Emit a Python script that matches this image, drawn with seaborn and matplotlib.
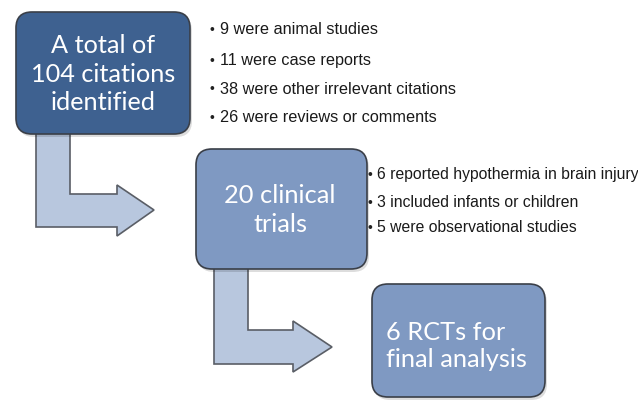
import matplotlib
matplotlib.use("Agg")
import matplotlib.pyplot as plt
import seaborn as sns
from matplotlib.patches import FancyBboxPatch, Polygon

# --- Flowchart content ---
stage_labels = ["A total of\n104 citations\nidentified",
                "20 clinical\ntrials",
                "6 RCTs for\nfinal analysis"]
excluded_first = ["9 were animal studies",
                  "11 were case reports",
                  "38 were other irrelevant citations",
                  "26 were reviews or comments"]
excluded_second = ["6 reported hypothermia in brain injury",
                   "3 included infants or children",
                   "5 were observational studies"]

# --- Layout (pixel space, y down) ---
W, H = 638, 402
boxes = [(16, 13, 174, 122), (196, 150, 171, 120), (372, 285, 173, 113)]
box_colors = ["#3E6190", "#7F99C2", "#7F99C2"]
arrows = [dict(x0=36, x1=70, top=133, hy0=195, hy1=228, hx=117, ht=186, hb=237, tip=(154, 211)),
          dict(x0=214, x1=248, top=268, hy0=331, hy1=365, hx=293, ht=322, hb=373, tip=(332, 348))]

sns.set_theme(style="white")
plt.rcParams['font.family'] = ['Lato', 'DejaVu Sans']

fig = plt.figure(figsize=(W / 100, H / 100), dpi=100)
ax = fig.add_axes([0, 0, 1, 1])
ax.set_xlim(0, W)
ax.set_ylim(H, 0)
ax.axis("off")

# bent arrows (drawn behind the boxes)
for a in arrows:
    pts = [(a["x0"], a["top"]), (a["x1"], a["top"]), (a["x1"], a["hy0"]),
           (a["hx"], a["hy0"]), (a["hx"], a["ht"]), a["tip"],
           (a["hx"], a["hb"]), (a["hx"], a["hy1"]), (a["x0"], a["hy1"])]
    ax.add_patch(Polygon(pts, closed=True, facecolor="#B8C7DE",
                         edgecolor="#5A5E66", linewidth=1.2, zorder=1))

# rounded boxes with a soft shadow
for (x, y, w, h), c in zip(boxes, box_colors):
    ax.add_patch(FancyBboxPatch((x + 2, y + 3), w, h,
                                boxstyle="round,pad=0,rounding_size=16",
                                facecolor="#00000022", edgecolor="none", zorder=2))
    ax.add_patch(FancyBboxPatch((x, y), w, h,
                                boxstyle="round,pad=0,rounding_size=16",
                                facecolor=c, edgecolor="#3A3F48", linewidth=1.2, zorder=3))

# box text
ax.text(103, 74, stage_labels[0], ha="center", va="center", color="white",
        fontsize=18.2, linespacing=1.28, zorder=4)
ax.text(280, 210, stage_labels[1], ha="center", va="center", color="white",
        fontsize=18.3, linespacing=1.28, zorder=4)
ax.text(386, 346, stage_labels[2], ha="left", va="center", color="white",
        fontsize=18.3, linespacing=1.2, zorder=4)

# exclusion bullet lists
first_y = [30, 61, 89, 118]
for yy, s in zip(first_y, excluded_first):
    ax.text(210, yy, "\u2022", ha="left", va="center", fontsize=10,
            family="Liberation Sans", color="#222222")
    ax.text(220, yy, s, ha="left", va="center", fontsize=11.7,
            family="Liberation Sans", color="#1a1a1a")

second_y = [175, 203, 228]
for yy, s in zip(second_y, excluded_second):
    ax.text(368, yy, "\u2022", ha="left", va="center", fontsize=10,
            family="Liberation Sans", color="#222222")
    ax.text(377, yy, s, ha="left", va="center", fontsize=11.35,
            family="Liberation Sans", color="#1a1a1a")

fig.savefig("out.png", dpi=100, facecolor="white")
